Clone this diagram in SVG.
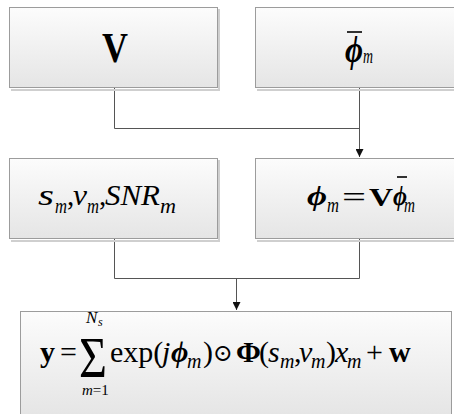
<svg xmlns="http://www.w3.org/2000/svg" width="454" height="414" viewBox="0 0 454 414">
<defs>
<linearGradient id="g" x1="0" y1="0" x2="0" y2="1">
<stop offset="0" stop-color="#fcfcfc"/>
<stop offset="1" stop-color="#e5e5e5"/>
</linearGradient>
<marker id="arr" viewBox="0 0 8 8" refX="8" refY="4" markerWidth="8" markerHeight="8" markerUnits="userSpaceOnUse" orient="auto">
<path d="M0,0 L8,4 L0,8 Z" fill="#111"/>
</marker>
</defs>
<style>
.box{fill:url(#g);stroke:#9c9c9c;stroke-width:1}
.sh{fill:none;stroke:#cfcfcf;stroke-width:2}
.t{font-family:"Liberation Serif","DejaVu Serif",serif;fill:#000}
.i{font-style:italic}
.b{font-weight:bold}
.conn{fill:none;stroke:#555;stroke-width:1}
.bar{stroke:#000;stroke-width:1.6}
</style>
<rect width="454" height="414" fill="#fff"/>
<g id="connectors">
<path class="conn" d="M114.5,88 V128.5 H359.5"/>
<path class="conn" d="M359.5,88 V157" marker-end="url(#arr)"/>
<path class="conn" d="M114.5,239 V278.5 H359.5 V239"/>
<path class="conn" d="M236.5,278.5 V310" marker-end="url(#arr)"/>
</g>
<g id="nodeV">
<path class="sh" d="M219,9 V90 H11"/>
<rect class="box" x="9.5" y="7.5" width="208" height="80"/>
<text class="t b" x="102" y="62" font-size="42" textLength="26" lengthAdjust="spacingAndGlyphs">V</text>
</g>
<g id="nodePhiBar">
<path class="sh" d="M257,90 H454"/>
<rect class="box" x="255.5" y="7.5" width="205" height="80"/>
<text class="t i b" x="345" y="62" font-size="38" textLength="18" lengthAdjust="spacingAndGlyphs">ϕ</text>
<text class="t i" x="363" y="63" font-size="21" textLength="10" lengthAdjust="spacingAndGlyphs">m</text>
<line class="bar" x1="347" y1="32" x2="362" y2="32"/>
</g>
<g id="nodeParams">
<path class="sh" d="M219,160 V241 H11"/>
<rect class="box" x="9.5" y="158.5" width="208" height="80"/>
<text class="t i" x="38" y="205" font-size="29" textLength="16" lengthAdjust="spacingAndGlyphs">s</text>
<text class="t i" x="55" y="213" font-size="21" textLength="12" lengthAdjust="spacingAndGlyphs">m</text>
<text class="t" x="67" y="205" font-size="29">,</text>
<text class="t i" x="73" y="205" font-size="29" textLength="14" lengthAdjust="spacingAndGlyphs">v</text>
<text class="t i" x="87" y="213" font-size="21" textLength="12" lengthAdjust="spacingAndGlyphs">m</text>
<text class="t" x="99" y="205" font-size="29">,</text>
<text class="t i" x="105" y="205" font-size="30" textLength="55" lengthAdjust="spacingAndGlyphs">SNR</text>
<text class="t i" x="160" y="213" font-size="21" textLength="16" lengthAdjust="spacingAndGlyphs">m</text>
</g>
<g id="nodePhi">
<path class="sh" d="M257,241 H454"/>
<rect class="box" x="255.5" y="158.5" width="205" height="80"/>
<text class="t i b" x="307" y="205" font-size="28" textLength="20" lengthAdjust="spacingAndGlyphs">ϕ</text>
<text class="t i" x="327" y="212" font-size="20" textLength="12" lengthAdjust="spacingAndGlyphs">m</text>
<text class="t" x="342" y="207" font-size="30" textLength="24" lengthAdjust="spacingAndGlyphs">=</text>
<text class="t b" x="369" y="206" font-size="25" textLength="24" lengthAdjust="spacingAndGlyphs">V</text>
<text class="t i b" x="393" y="205" font-size="28" textLength="14" lengthAdjust="spacingAndGlyphs">ϕ</text>
<text class="t i" x="404" y="212" font-size="20" textLength="11" lengthAdjust="spacingAndGlyphs">m</text>
<line class="bar" x1="397" y1="177" x2="407" y2="177"/>
</g>
<g id="nodeModel">
<rect class="box" x="20.5" y="311.5" width="431" height="104"/>
<text class="t" x="79" y="377" font-size="58" textLength="28" lengthAdjust="spacingAndGlyphs">Σ</text>
<text class="t" font-size="17"><tspan class="i" x="86" y="323">N</tspan><tspan class="i" x="98" y="326" font-size="12">s</tspan></text>
<text class="t" x="82" y="395" font-size="15"><tspan class="i">m</tspan>=1</text>
<text class="t" font-size="30" y="362"><tspan class="b" x="40">y</tspan><tspan x="60">=</tspan><tspan x="110">exp(</tspan><tspan class="i" x="162">j</tspan><tspan class="i b" x="171">ϕ</tspan><tspan class="i" x="187" y="368" font-size="20">m</tspan><tspan x="203" y="362">)</tspan><tspan x="213" y="361" font-size="24">⊙</tspan><tspan class="b" x="236" y="362">Φ</tspan><tspan x="259">(</tspan><tspan class="i" x="268">s</tspan><tspan class="i" x="280" y="368" font-size="20">m</tspan><tspan x="294" y="362">,</tspan><tspan class="i" x="299">v</tspan><tspan class="i" x="311" y="368" font-size="20">m</tspan><tspan x="326" y="362">)</tspan><tspan class="i" x="335">x</tspan><tspan class="i" x="347" y="368" font-size="20">m</tspan><tspan x="366" y="362">+</tspan><tspan class="b" x="389">w</tspan></text>
</g>
</svg>
